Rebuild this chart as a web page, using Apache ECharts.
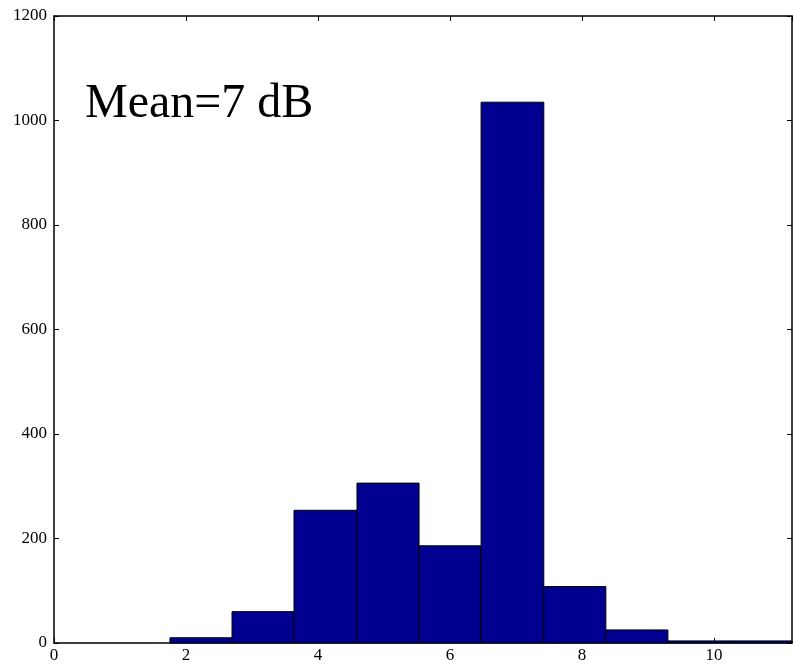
<!DOCTYPE html>
<html>
<head>
<meta charset="utf-8">
<script src="https://cdn.jsdelivr.net/npm/echarts@6/dist/echarts.min.js"></script>
<style>
  html, body { margin: 0; padding: 0; background: #fff; }
  #chart { width: 793px; height: 665px; }
</style>
</head>
<body>
<div id="chart"></div>
<script>
// histogram bins (edges) and counts
const binEdges = [1.757, 2.697, 3.636, 4.59, 5.53, 6.47, 7.42, 8.36, 9.30, 10.24, 11.18]
const counts = [10, 60, 254, 306, 186, 1035, 108, 25, 4, 4]
const xTicks = [0, 2, 4, 6, 8, 10]
const yTicks = [0, 200, 400, 600, 800, 1000, 1200]
const annotation = 'Mean=7 dB'

const bins = counts.map((c, i) => [binEdges[i], binEdges[i + 1], c])

const chart = echarts.init(document.getElementById('chart'))

const serif = 'Liberation Serif, DejaVu Serif, serif'
const tickStyle = { show: true, inside: true, length: 5, lineStyle: { color: '#000', width: 1 } }

const option = {
  animation: false,
  backgroundColor: '#fff',
  grid: { left: 54, right: 1, top: 16, bottom: 22 },
  xAxis: [
    {
      type: 'value',
      min: 0,
      max: binEdges[binEdges.length - 1],
      interval: 2,
      position: 'bottom',
      axisLine: { show: true, onZero: false, lineStyle: { color: '#000', width: 1.5 } },
      axisTick: tickStyle,
      axisLabel: {
        color: '#000', fontFamily: serif, fontSize: 17, margin: 4,
        showMaxLabel: false,
        formatter: v => (xTicks.includes(v) ? String(v) : '')
      },
      splitLine: { show: false }
    },
    {
      type: 'value',
      min: 0,
      max: binEdges[binEdges.length - 1],
      interval: 2,
      position: 'top',
      axisLine: { show: true, onZero: false, lineStyle: { color: '#000', width: 1.5 } },
      axisTick: tickStyle,
      axisLabel: { show: false },
      splitLine: { show: false }
    }
  ],
  yAxis: [
    {
      type: 'value',
      min: 0,
      max: 1200,
      interval: 200,
      position: 'left',
      axisLine: { show: true, onZero: false, lineStyle: { color: '#000', width: 1.5 } },
      axisTick: tickStyle,
      axisLabel: {
        color: '#000', fontFamily: serif, fontSize: 17, margin: 7,
        formatter: v => (yTicks.includes(v) ? String(v) : '')
      },
      splitLine: { show: false }
    },
    {
      type: 'value',
      min: 0,
      max: 1200,
      interval: 200,
      position: 'right',
      axisLine: { show: true, onZero: false, lineStyle: { color: '#000', width: 1.5 } },
      axisTick: tickStyle,
      axisLabel: { show: false },
      splitLine: { show: false }
    }
  ],
  series: [
    {
      type: 'custom',
      xAxisIndex: 0,
      yAxisIndex: 0,
      data: bins,
      renderItem: (params, api) => {
        const p0 = api.coord([api.value(0), api.value(2)])
        const p1 = api.coord([api.value(1), 0])
        return {
          type: 'rect',
          shape: { x: p0[0], y: p0[1], width: p1[0] - p0[0], height: p1[1] - p0[1] },
          style: { fill: '#000090', stroke: '#000', lineWidth: 1 }
        }
      },
      z: 1
    }
  ],
  graphic: [
    {
      type: 'text',
      left: 85,
      top: 80,
      style: { text: annotation, fill: '#000', font: '48px ' + serif }
    }
  ]
}

chart.setOption(option)
</script>
</body>
</html>
